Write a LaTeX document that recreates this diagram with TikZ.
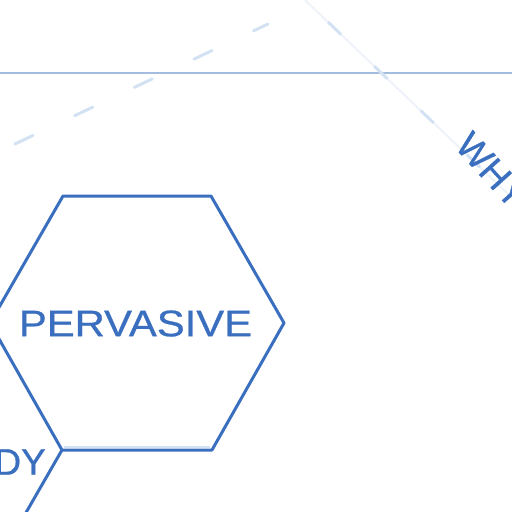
\documentclass[tikz,border=0pt]{standalone}
\usepackage{fontspec}
\setmainfont{Liberation Sans}[FakeBold=0.6]
\newfontfamily\lblfont{Liberation Sans}[FakeBold=0.6]
\definecolor{hexblue}{HTML}{3A6EBE}
\definecolor{faint}{HTML}{D3E2F2}
\definecolor{rulecol}{HTML}{A3BCE0}
\definecolor{veryfaint}{HTML}{EEF3FA}
\begin{document}
\begin{tikzpicture}[x=1pt,y=-1pt,
  hexline/.style={draw=hexblue,line width=3pt,line join=round},
  lbl/.style={text=hexblue,font=\lblfont\fontsize{37}{37}\selectfont,inner sep=0pt}]
\useasboundingbox (0,0) rectangle (512,512);
\clip (0,0) rectangle (512,512);
% guide lines
\draw[rulecol, line width=1.3pt] (0,73) -- (512,73);
\draw[faint, line width=3pt, line cap=round, dash pattern=on 20pt off 46pt] (15,144) -- (268,24);
\draw[veryfaint, line width=2pt] (305,0) -- (530,215);
\draw[faint, line width=3pt, dash pattern=on 18pt off 46pt, dash phase=32pt] (305,0) -- (530,215);
% hexagon
\coordinate (p1) at (63,196);
\coordinate (p2) at (211,196);
\coordinate (p3) at (284,323);
\coordinate (p4) at (212,450);
\coordinate (p5) at (62,450);
\coordinate (p6) at (-10,323);
\coordinate (q1) at (-11,577);
\draw[faint, line width=2pt] (64,447) -- (210,447);
\draw[hexline] (p1) -- (p2) -- (p3) -- (p4) -- (p5) -- (p6) -- cycle;
\draw[hexline] (p5) -- (q1);
% labels
\node[lbl] (perv) at (135.5,323.5) {\scalebox{1.13}[1]{PERVASIVE}};
\node[lbl, anchor=east] (dy) at (46,462) {DY};
\node[lbl, rotate=-48, anchor=west] (why) at (463,138) {WHY};
\end{tikzpicture}
\end{document}
